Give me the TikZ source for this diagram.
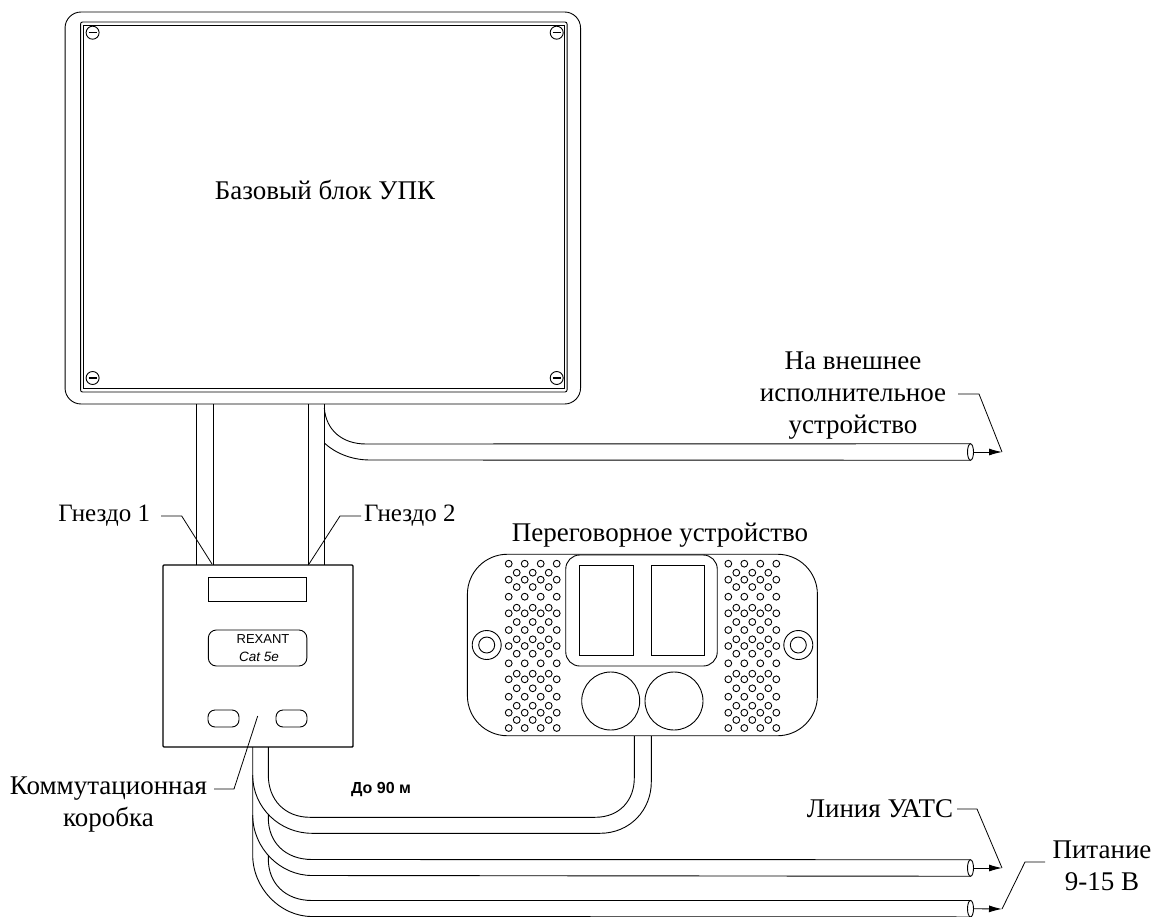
\documentclass[tikz,border=0pt]{standalone}
\usepackage{fontspec}
\setmainfont{Liberation Serif}
\setsansfont{Liberation Sans}
\usepackage{tikz}
\usetikzlibrary{arrows.meta,shapes.geometric,positioning}

\begin{document}
\begin{tikzpicture}[
  x=1pt,y=-1pt,
  line width=.9pt,
  every node/.style={align=center,inner sep=0pt,outer sep=0pt},
  label/.style={font=\fontsize{27}{32}\selectfont},
  small label/.style={font=\fontsize{25}{32}\selectfont},
  housing/.style={draw,rectangle,rounded corners=#1},
  housing/.default=0pt,
  screw/.style={draw,circle,minimum size=13pt},
  slot/.style={line width=1.6pt},
  hole/.style={draw,circle,minimum size=6.8pt},
  plug/.style={draw,ellipse,fill=white,minimum width=6pt,minimum height=16.5pt},
  cable/.style={line width=.9pt},
  to/.style={-{Latex[length=13pt,width=7pt]},line width=.9pt},
  leader/.style={line width=.8pt}]

  \useasboundingbox (0,0) rectangle (1153,917);

  % Base unit with its frame and screws
  \node[housing=16pt,minimum width=515.5pt,minimum height=392pt] (base) at (322.8,208) {};
  \node[housing=2pt,minimum width=486.5pt,minimum height=370pt] (frame) at (323.8,207) {};
  \node[housing,minimum width=481pt,minimum height=363.5pt] (panel) at (323.8,206.8) {};
  \node[label] (basetext) at (325,190) {Базовый блок УПК};
  \foreach \name/\x/\y in {sa/92.6/32.7,sb/556.7/32.7,sc/92.6/378,sd/556.7/378} {
    \node[screw] (\name) at (\x,\y) {};
    \draw[slot] ([xshift=2.5pt]\name.west) -- ([xshift=-2.5pt]\name.east);
  }

  % Junction box
  \node[housing=1pt,line width=1.4pt,minimum width=190pt,minimum height=182pt] (jbox) at (258,656) {};
  \node[housing,minimum width=98pt,minimum height=24pt] (window) at (257,589) {};
  \node[housing=8pt,minimum width=98.5pt,minimum height=36pt] (plate) at (257.6,648) {};
  \node[font=\sffamily\fontsize{13}{18}\selectfont] (rexant) at (263,639) {REXANT};
  \node[font=\sffamily\itshape\fontsize{13.5}{18}\selectfont] (cat) at (259,657) {Cat 5e};
  \node[housing=7pt,minimum width=31pt,minimum height=17pt] (pilla) at (223.5,718.5) {};
  \node[housing=7pt,minimum width=31pt,minimum height=17pt] (pillb) at (291.5,718.5) {};

  % Intercom
  \node[housing=40pt,minimum width=350pt,minimum height=181.5pt] (intercom) at (642.4,645) {};
  \node[housing=14pt,minimum width=151.5pt,minimum height=111pt] (grille) at (641.5,610.5) {};
  \node[housing,minimum width=54pt,minimum height=90pt] (wina) at (606.3,610) {};
  \node[housing,minimum width=52.6pt,minimum height=90pt] (winb) at (678,610) {};
  \node[draw,circle,minimum size=58pt] (keya) at (610.7,701) {};
  \node[draw,circle,minimum size=58pt] (keyb) at (674,701) {};
  \foreach \name/\x in {fixa/486.7,fixb/798.3} {
    \node[draw,circle,minimum size=29pt] (\name) at (\x,645) {};
    \node[draw,circle,minimum size=16pt] (\name in) at (\x,645) {};
  }
  \node[label] (intercomtext) at (660,535) {Переговорное устройство};

  % Perforation on both sides of the intercom
  \foreach \dx in {0,219.6} {
    \foreach \y in {563.7,579.7,596.7,613.3,630,646,663.3,679.3,696.7,712.7,728}
      \foreach \x in {508.7,524.7,540.7,556.7}
        \node[hole] at (\x+\dx,\y) {};
    \foreach \y in {572.7,587,607.7,622,639.3,653.7,673.7,688.3,705.7,720}
      \foreach \x in {516.7,532.7,548.7}
        \node[hole] at (\x+\dx,\y) {};
  }

  % Cables from the base unit to the junction box
  \coordinate (jackal) at (196.7,404);
  \coordinate (jackar) at (213,404);
  \coordinate (jackbl) at (308.3,404);
  \coordinate (jackbr) at (324.3,404);
  \foreach \p in {jackal,jackar,jackbl,jackbr}
    \draw[cable] (\p) -- (\p |- jbox.north);

  % Cable to the external device
  \node[plug] (plugext) at (970.5,452) {};
  \coordinate (extup) at (324.3,408);
  \coordinate (extlo) at (324.3,443);
  \draw[cable] (extup) .. controls (326,430) and (342,444) .. (366,444) -- (plugext.north);
  \draw[cable] (extlo) .. controls (334,452) and (350,460) .. (370,460) -- (plugext.south);

  % Cable from the junction box to the intercom
  \coordinate (phoneil) at (268.3,747);
  \coordinate (phoneol) at (252.7,747);
  \coordinate (phoneir) at (634.3,736);
  \coordinate (phoneor) at (651.3,736);
  \draw[cable] (phoneil) -- (268.3,775) .. controls (268.3,800) and (285,817.3) .. (310,817.3)
    -- (595,817.3) .. controls (620,817.3) and (634.3,800) .. (634.3,778) -- (phoneir);
  \draw[cable] (phoneol) -- (252.7,775) .. controls (252.7,808) and (280,833.3) .. (312,833.3)
    -- (600,833.3) .. controls (630,833.3) and (651.3,810) .. (651.3,782) -- (phoneor);

  % Cables of the exchange line and of the power supply
  \node[plug] (plugline) at (970.5,868) {};
  \node[plug] (plugpower) at (970.5,908.7) {};
  \coordinate (lineil) at (268.3,814);
  \coordinate (lineol) at (252.7,775);
  \coordinate (poweril) at (268.3,855);
  \coordinate (powerol) at (252.7,815);
  \draw[cable] (lineil) -- (268.3,818) .. controls (268.3,842) and (285,859.5) .. (312,859.5) -- (plugline.north);
  \draw[cable] (lineol) -- (252.7,815) .. controls (252.7,848) and (280,875.5) .. (312,875.5) -- (plugline.south);
  \draw[cable] (poweril) -- (268.3,859) .. controls (268.3,883) and (285,900.5) .. (312,900.5) -- (plugpower.north);
  \draw[cable] (powerol) -- (252.7,855) .. controls (252.7,888) and (280,916.5) .. (312,916.5) -- (plugpower.south);

  % Arrows out of the cable ends
  \coordinate (tipext) at (1002,452);
  \coordinate (tipline) at (1002,868);
  \coordinate (tippower) at (1002,909);
  \draw[to] (plugext.east) -- (tipext);
  \draw[to] (plugline.east) -- (tipline);
  \draw[to] (plugpower.east) -- (tippower);

  % Labels and their leaders
  \node[label] (exttext) at (853,396) {На внешнее\\исполнительное\\устройство};
  \node[small label,anchor=east] (sockettexta) at (150,516) {Гнездо 1};
  \node[small label,anchor=west] (sockettextb) at (364,516) {Гнездо 2};
  \node[label] (boxtext) at (108.5,805) {Коммутационная\\коробка};
  \node[font=\sffamily\bfseries\fontsize{16}{18}\selectfont] (lengthtext) at (381,789) {До 90 м};
  \node[label] (linetext) at (880,809) {Линия УАТС};
  \node[label] (powertext) at (1102,866) {Питание\\9-15 В};

  \draw[leader] (958,394) -- (979,394) -- (tipext);
  \draw[leader] (sockettexta.east) ++(11,0) -- (181.7,516) -- (212,564);
  \draw[leader] (sockettextb.west) ++(-3,0) -- (340,516) -- (309,564);
  \draw[leader] (214,789) -- (234,789) -- (257.7,716);
  \draw[leader] (957,809) -- (977,809) -- (tipline);
  \draw[leader] (1045,862) -- (1025,862) -- (tippower);
\end{tikzpicture}
\end{document}
